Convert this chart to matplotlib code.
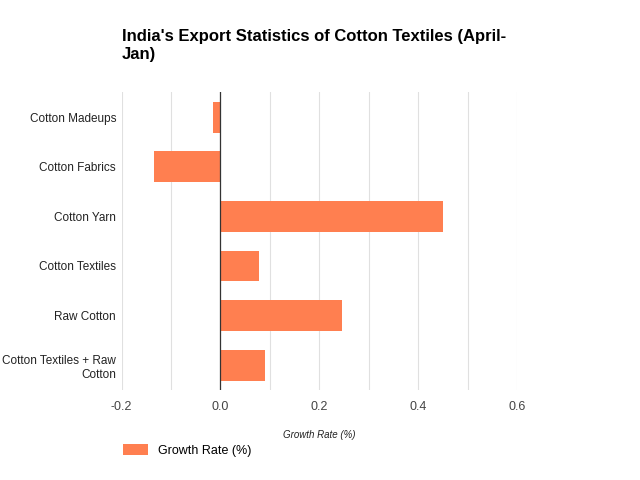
import matplotlib.pyplot as plt

categories = ["Cotton Madeups", "Cotton Fabrics", "Cotton Yarn", "Cotton Textiles",
              "Raw Cotton", "Cotton Textiles + Raw\nCotton"]
growth = [-0.015, -0.135, 0.45, 0.078, 0.245, 0.09]
xticks = [-0.2, 0.0, 0.2, 0.4, 0.6]

plt.rcParams["font.family"] = "Liberation Sans"
fig = plt.figure(figsize=(6.4, 4.8), dpi=100)
ax = fig.add_axes([0.19, 0.1875, 0.618, 0.62])
ypos = list(range(len(categories)))
ax.barh(ypos, growth, height=0.62, color="#FF7F50", label="Growth Rate (%)", zorder=2)
ax.set_yticks(ypos)
ax.set_yticklabels(categories, fontsize=8.5, color="#222222")
ax.set_ylim(len(categories) - 0.5, -0.5)
ax.set_xlim(-0.2, 0.6)
ax.set_xticks(xticks)
ax.set_xticks([-0.1, 0.1, 0.3, 0.5], minor=True)
ax.set_xticklabels([f"{t:.1f}" for t in xticks], fontsize=9, color="#444444")
ax.grid(axis="x", which="both", color="#e0e0e0", linewidth=0.8, zorder=0)
ax.axvline(0, color="#333333", linewidth=0.9, zorder=3)
for s in ax.spines.values():
    s.set_visible(False)
ax.tick_params(axis="y", length=0, which="both", pad=4)
ax.tick_params(axis="x", length=0, which="both", pad=8)
ax.set_xlabel("Growth Rate (%)", fontsize=7, style="italic", color="#222222", labelpad=12)

fig.text(0.19, 0.87, "India's Export Statistics of Cotton Textiles (April-\nJan)",
         fontsize=12, fontweight="bold", va="bottom", linespacing=1.3)
fig.legend(loc="lower left", bbox_to_anchor=(0.175, 0.025), frameon=False, fontsize=9,
           handlelength=2.0, handleheight=1.0)
fig.savefig("out.png", dpi=100)
